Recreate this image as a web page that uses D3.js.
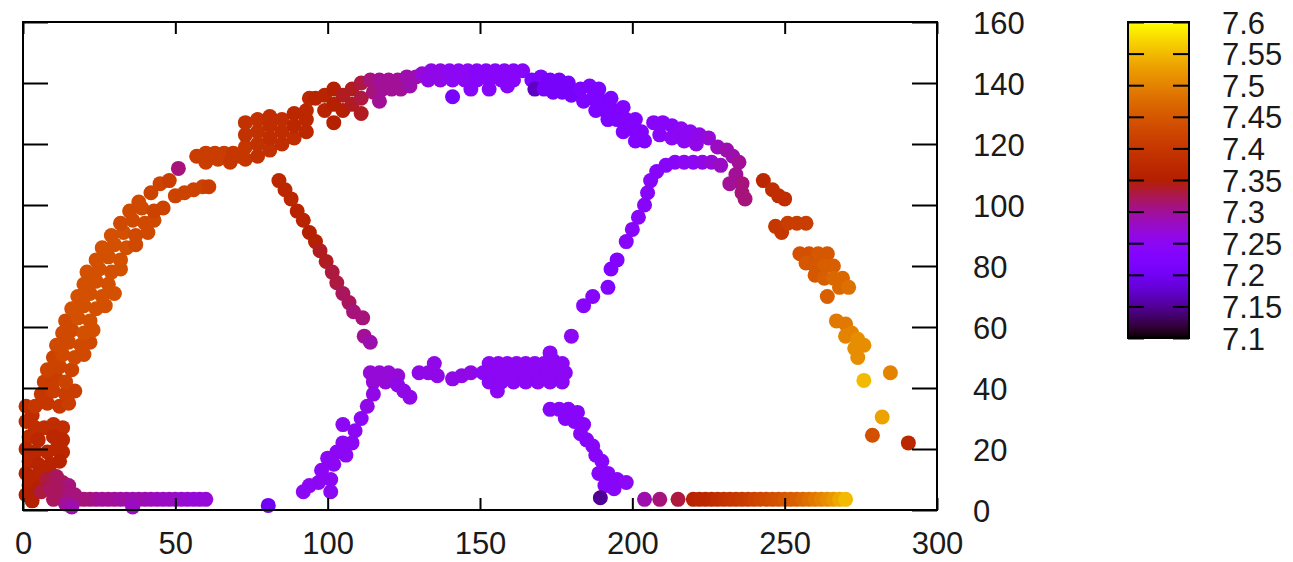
<!DOCTYPE html>
<html>
<head>
<meta charset="utf-8">
<script src="https://cdn.jsdelivr.net/npm/d3@7"></script>
<style>
  body { margin: 0; background: #fff; }
  svg { display: block; }
</style>
</head>
<body>
<script>
// tick labels
var xTicks = [0, 50, 100, 150, 200, 250, 300];
var yTicks = [0, 20, 40, 60, 80, 100, 120, 140, 160];
var cbTicks = [7.1, 7.15, 7.2, 7.25, 7.3, 7.35, 7.4, 7.45, 7.5, 7.55, 7.6];

// points: [x, y, value]
var bottomLeft = [
  [1,34,7.39],[3,31,7.38],[1,29,7.38],[4,27,7.38],[7,27,7.38],[10,28,7.38],[13,27,7.38],
  [2,24,7.38],[5,23,7.37],[10,24,7.37],[13,23,7.37],
  [1,20,7.37],[4,19,7.37],[8,19,7.37],[11,20,7.37],[13,19,7.37],
  [2,16,7.37],[5,15,7.36],[9,15,7.36],[12,16,7.36],
  [1,12,7.36],[4,11,7.36],[7,12,7.36],
  [2,8,7.36],[5,7,7.35],[1,5,7.35],[3,3,7.35],
  [8,10,7.33],[11,11,7.32],[13,9,7.32],[15,8,7.31],[6,6,7.33],[9,7,7.32],[12,6,7.32],
  [15,5,7.31],[17,5,7.31],[14,2,7.30],[16,1,7.29],[36,1,7.28],[80.5,1.5,7.20]
];
var bottomStrip = [
  [10,3.5,7.32],[13,3.5,7.32],[18,3.5,7.315],[20,3.5,7.31],[22,3.5,7.31],[24,3.5,7.305],
  [26,3.5,7.30],[28,3.5,7.30],[30,3.5,7.30],[32,3.5,7.295],[34,3.5,7.295],[36,3.5,7.29],
  [38,3.5,7.29],[40,3.5,7.29],[42,3.5,7.285],[44,3.5,7.285],[46,3.5,7.28],[48,3.5,7.28],
  [50,3.5,7.28],[52,3.5,7.275],[54,3.5,7.275],[56,3.5,7.27],[58,3.5,7.27],[60,3.5,7.27]
];
var leftArc = [
  [4,34,7.40],[8,35,7.40],[12,34,7.40],[15,35,7.41],
  [6,38,7.40],[10,39,7.41],[14,38,7.41],[17,39,7.41],
  [7,42,7.41],[11,43,7.41],[14,42,7.42],
  [8,46,7.42],[12,47,7.42],[16,46,7.42],
  [10,50,7.42],[13,51,7.43],[17,50,7.43],[20,51,7.43],
  [11,54,7.43],[15,55,7.43],[19,54,7.43],[22,55,7.43],
  [13,58,7.43],[16,59,7.43],[20,58,7.44],[23,59,7.44],
  [14,62,7.43],[18,63,7.44],[22,62,7.44],
  [16,66,7.44],[20,67,7.44],[24,66,7.44],[27,67,7.44],
  [18,70,7.44],[22,71,7.44],[26,70,7.44],[30,71,7.44],
  [20,74,7.44],[24,75,7.44],[28,74,7.44],
  [21,78,7.44],[25,79,7.44],[29,78,7.44],[32,79,7.44],
  [24,82,7.44],[28,83,7.44],[32,82,7.44],
  [26,86,7.44],[30,87,7.44],[34,86,7.44],[37,87,7.43],
  [29,90,7.44],[33,91,7.44],[37,90,7.43],[41,91,7.43],
  [32,94,7.43],[36,95,7.43],[40,94,7.43],[43,95,7.43],
  [35,98,7.43],[39,99,7.43],[43,98,7.42],[46,99,7.42],
  [38,101,7.43],
  [50,103,7.42],[53,104,7.42],[56,105,7.42],[59,106,7.42],[61,106,7.41],
  [42,104,7.42],[45,107,7.42],[48,108,7.41],[51,112,7.31],
  [57,116,7.41],[60,117,7.41],[63,117,7.41],[66,117,7.41],[69,117,7.40],[71,116,7.40],
  [60,114,7.41],[64,115,7.41],[68,114,7.40]
];
var topArc = [
  [73,115,7.40],[73,119,7.40],[73,123,7.39],[73,127,7.39],
  [77,116,7.39],[77,120,7.39],[77,124,7.39],[77,128,7.39],
  [81,118,7.39],[81,122,7.38],[81,126,7.38],[81,129,7.38],
  [85,120,7.38],[85,124,7.38],[85,128,7.38],
  [89,122,7.38],[89,126,7.37],[89,130,7.37],
  [93,124,7.37],[93,128,7.37],[93,131,7.37],[94,135,7.37],
  [96,135,7.36],[99,131,7.36],[99,136,7.36],[102,127,7.35],[102,133,7.35],[102,138,7.35],
  [105,131,7.35],[105,136,7.34],[108,133,7.34],[108,138,7.34],[111,130,7.34],[111,135,7.33],[111,140,7.33],
  [114,141,7.31],[117,141,7.30],[120,141,7.30],[123,141,7.30],[126,142,7.29],[129,142,7.29],
  [115,137,7.31],[118,138,7.30],[121,138,7.30],[124,138,7.30],[127,139,7.29],[117,134,7.30],
  [131,143,7.27],[134,144,7.26],[137,144,7.26],[140,144,7.25],[143,144,7.25],[146,144,7.25],
  [149,144,7.24],[152,144,7.24],[155,144,7.24],[158,144,7.24],[161,144,7.24],[164,144,7.24],
  [133,141,7.26],[137,141,7.26],[141,141,7.25],[145,141,7.25],[149,141,7.24],[153,141,7.24],
  [157,141,7.24],[161,141,7.24],[147,138,7.24],[153,138,7.24],[159,139,7.24],[141,135.5,7.21],
  [167,141,7.22],[170,142,7.22],[173,141,7.21],[176,141,7.21],[179,140,7.21],
  [168,138,7.17],[171,138,7.21],[174,137,7.21],[177,137,7.21],[180,136,7.21],
  [183,138,7.22],[186,139,7.22],[189,138,7.22],[184,134,7.22],[187,135,7.22],[190,134,7.22],
  [193,135,7.22],[188,131,7.22],[191,131,7.22],[194,131,7.22],[197,132,7.23],[192,128,7.22],
  [195,128,7.22],[198,128,7.23],[201,128,7.23],[197,124,7.23],[200,125,7.23],[203,124,7.23],
  [201,121,7.23],[204,121,7.23],
  [207,127,7.24],[210,127,7.24],[213,126,7.24],[216,125,7.25],[219,124,7.25],[222,123,7.26],
  [225,122,7.27],[209,123,7.24],[213,122,7.25],[217,121,7.25],[221,120,7.26],
  [228,119,7.28],[231,118,7.29],[233,116,7.29],[235,114,7.30],[234,110,7.30],[236,107,7.31],
  [236,104,7.31],[237,102,7.31],[232,107,7.30]
];
var rightArc = [
  [243,108,7.37],[246,105,7.38],[248,103,7.38],[250,102,7.38],
  [247,93,7.40],[249,91,7.40],[251,94,7.41],[254,94,7.41],[257,94,7.41],
  [255,84,7.44],[258,84,7.44],[261,84,7.45],[264,84,7.45],[257,81,7.45],[260,80,7.45],
  [263,80,7.46],[266,80,7.46],[260,77,7.45],[263,76,7.46],[266,76,7.47],[269,76,7.47],
  [268,73,7.47],[271,73,7.48],[264,70,7.46],
  [267,62,7.49],[270,61,7.49],[272,58,7.50],[270,57,7.50],[274,56,7.51],[276,54,7.51],
  [273,53,7.51],[274,50,7.51],
  [276,42.5,7.55],[284.7,45,7.50],[282,30.5,7.53],[278.8,24.5,7.44],[290.6,22,7.37]
];
var innerLeft = [
  [84,108,7.37],[86,105,7.37],[88,102,7.37],[90,98,7.36],[92,95,7.36],[94,91,7.35],
  [96,88,7.35],[97.5,85,7.34],[99.5,81.5,7.34],[101.5,78,7.33],[103,74.5,7.33],[105,71,7.32],
  [107,68,7.32],[108.5,65,7.31],[111.5,63,7.31],[112,57,7.30],[114,55,7.29]
];
var innerRight = [
  [211,113,7.24],[214,114,7.24],[217,114,7.25],[220,114,7.25],[223,114,7.26],[226,114,7.27],
  [229,113,7.28],[208,111,7.24],[206,108,7.24],[205,104,7.24],[204,100,7.24],[202,96,7.24],
  [200,92,7.24],[198,88,7.24],[195,82,7.23],[193,79,7.23],[192,73,7.23],[187,70,7.24],
  [184,67,7.24],[180,57,7.25]
];
var crossbar = [
  [114,45,7.27],[117,45,7.27],[120,45,7.27],[123,44,7.27],[115,42,7.27],[119,42,7.27],
  [123,41,7.26],[125,39,7.26],[127,37,7.26],
  [130,45,7.26],[133,45,7.26],[136,44,7.26],[135,48,7.26],
  [141,43,7.26],[144,44,7.26],[147,45,7.26],
  [153,48,7.25],[156,48,7.25],[159,48,7.25],[162,48,7.25],[165,48,7.25],[168,48,7.25],
  [171,48,7.25],[174,49,7.25],[177,48,7.25],
  [151,45,7.25],[154,45,7.25],[157,45,7.25],[160,45,7.25],[163,45,7.25],[166,45,7.25],
  [169,45,7.25],[172,45,7.25],[175,45,7.25],[178,45,7.25],
  [153,42,7.25],[157,42,7.25],[161,42,7.25],[165,42,7.25],[169,42,7.25],[173,42,7.25],
  [177,42,7.25],[155.7,39,7.25],[173,51.5,7.25]
];
var lowerLeft = [
  [115,38,7.26],[113,34,7.26],[111,30,7.25],[109,26,7.25],[105,28,7.25],[108,22,7.25],
  [105,22,7.25],[106,18,7.25],[103,19,7.25],[102,15,7.25],[100,17,7.25],[98,13,7.25],
  [101,10,7.25],[97,9,7.25],[94,8,7.25],[92,6,7.25],[101,6,7.25]
];
var lowerRight = [
  [173,33,7.24],[176,33,7.24],[179,33,7.24],[182,32,7.24],[178,30,7.24],[181,29,7.24],
  [184,28,7.24],[183,25,7.24],[185,23,7.24],[187,21,7.24],[188,18,7.24],[190,16,7.24],
  [189,12,7.24],[192,12,7.24],[195,10,7.24],[198,9,7.25],[191,8,7.24],[194,7,7.24],
  [189.5,4,7.15]
];
var bottomRight = [
  [204,3.5,7.29],[209,3.5,7.31],[215,3.5,7.33],
  [220,3.5,7.36],[222,3.5,7.365],[224,3.5,7.37],[226,3.5,7.375],[228,3.5,7.38],[230,3.5,7.39],
  [232,3.5,7.395],[234,3.5,7.40],[236,3.5,7.405],[238,3.5,7.41],[240,3.5,7.42],[242,3.5,7.425],
  [244,3.5,7.43],[246,3.5,7.435],[248,3.5,7.44],[250,3.5,7.45],[252,3.5,7.455],[254,3.5,7.46],
  [256,3.5,7.47],[258,3.5,7.48],[260,3.5,7.49],[262,3.5,7.50],[264,3.5,7.51],[266,3.5,7.52],
  [268,3.5,7.535],[270,3.5,7.55]
];

var W = 1293, H = 562;
var font = "'Liberation Sans', Arial, sans-serif";

var svg = d3.select("body").append("svg")
    .attr("width", W)
    .attr("height", H)
    .style("background", "#fff");

var x = d3.scaleLinear().domain([0, 300]).range([23, 937]);
var y = d3.scaleLinear().domain([0, 160]).range([510, 22]);
var cb = d3.scaleLinear().domain([7.1, 7.6]).range([338, 22]);

// gnuplot default palette (rgbformulae 7,5,15)
function palette(v) {
    var t = Math.max(0, Math.min(1, (v - 7.1) / 0.5));
    var r = Math.sqrt(t), g = t * t * t, b = Math.max(0, Math.sin(2 * Math.PI * t));
    return d3.rgb(r * 255, g * 255, b * 255).toString();
}

var points = [].concat(bottomStrip, bottomLeft, leftArc, topArc, innerLeft, innerRight,
    crossbar, lowerLeft, lowerRight, bottomRight, rightArc);

svg.append("g").selectAll("circle")
    .data(points)
    .enter().append("circle")
    .attr("cx", function(d) { return x(d[0]); })
    .attr("cy", function(d) { return y(d[1]); })
    .attr("r", 7.5)
    .attr("fill", function(d) { return palette(d[2]); });

function styleAxis(g) {
    g.select(".domain").remove();
    g.attr("font-family", font).attr("font-size", 31);
    g.selectAll("line").attr("stroke", "#000").attr("stroke-width", 2);
    g.selectAll("text").attr("fill", "#1a1a1a");
}

svg.append("g")
    .attr("transform", "translate(0,510)")
    .call(d3.axisBottom(x).tickValues(xTicks).tickSize(-12).tickPadding(22).tickFormat(d3.format("d")))
    .call(styleAxis);

svg.append("g")
    .attr("transform", "translate(0,22)")
    .call(d3.axisTop(x).tickValues(xTicks).tickSize(-12).tickFormat(""))
    .call(styleAxis);

svg.append("g")
    .attr("transform", "translate(937,0)")
    .call(d3.axisRight(y).tickValues(yTicks).tickSize(-25).tickPadding(36).tickFormat(d3.format("d")))
    .call(styleAxis)
    .call(function(g) { g.selectAll("text").attr("dy", "0.38em"); });

svg.append("g")
    .attr("transform", "translate(23,0)")
    .call(d3.axisLeft(y).tickValues(yTicks).tickSize(-25).tickFormat(""))
    .call(styleAxis);

svg.append("rect")
    .attr("x", 23).attr("y", 22)
    .attr("width", 914).attr("height", 488)
    .attr("fill", "none")
    .attr("stroke", "#000")
    .attr("stroke-width", 2);

// colour box
var grad = svg.append("defs").append("linearGradient")
    .attr("id", "pal")
    .attr("x1", 0).attr("y1", 1).attr("x2", 0).attr("y2", 0);
grad.selectAll("stop")
    .data(d3.range(0, 1.0001, 0.02))
    .enter().append("stop")
    .attr("offset", function(d) { return d; })
    .attr("stop-color", function(d) { return palette(7.1 + d * 0.5); });

svg.append("rect")
    .attr("x", 1128).attr("y", 22)
    .attr("width", 61).attr("height", 316)
    .attr("fill", "url(#pal)");

svg.append("g")
    .attr("transform", "translate(1189,0)")
    .call(d3.axisRight(cb).tickValues(cbTicks).tickSize(-16).tickPadding(33).tickFormat(function(d) { return String(d); }))
    .call(styleAxis)
    .call(function(g) { g.selectAll("text").attr("dy", "0.36em"); });

svg.append("g")
    .attr("transform", "translate(1128,0)")
    .call(d3.axisLeft(cb).tickValues(cbTicks).tickSize(-16).tickFormat(""))
    .call(styleAxis);

svg.append("rect")
    .attr("x", 1128).attr("y", 22)
    .attr("width", 61).attr("height", 316)
    .attr("fill", "none")
    .attr("stroke", "#000")
    .attr("stroke-width", 2);
</script>
</body>
</html>
